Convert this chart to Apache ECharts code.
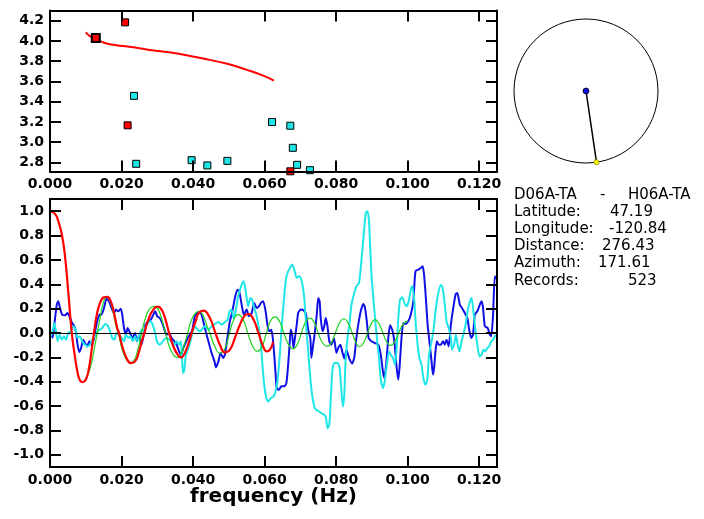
<!DOCTYPE html>
<html><head><meta charset="utf-8">
<script src="https://cdn.jsdelivr.net/npm/echarts@6/dist/echarts.min.js"></script>
<style>html,body{margin:0;padding:0;background:#fff}
#wrap{position:relative;width:704px;height:519px}
#a,#b0,#b1{position:absolute;left:0;top:0;width:704px;height:519px}
#b0,#b1{pointer-events:none}</style>
</head><body><div id="wrap"><div id="a"></div><div id="b0"></div><div id="b1"></div></div>
<script>
// ---------- data ----------
const freqTicks = [0, 0.02, 0.04, 0.06, 0.08, 0.10, 0.12];
const velTicks = [2.8, 3.0, 3.2, 3.4, 3.6, 3.8, 4.0, 4.2];
const corrTicks = [-1.0, -0.8, -0.6, -0.4, -0.2, 0.0, 0.2, 0.4, 0.6, 0.8, 1.0];
const xAxisTitle = 'frequency (Hz)';

const dispersionCurve = [[0.0100,4.084],[0.0110,4.051],[0.0121,4.029],[0.0142,3.995],[0.0161,3.972],[0.0189,3.955],[0.0217,3.945],[0.0254,3.925],[0.0291,3.906],[0.0328,3.890],[0.0356,3.876],[0.0421,3.830],[0.0496,3.774],[0.0551,3.714],[0.0598,3.655],[0.0626,3.608]];
const redPickMain = [[0.0128,4.029]];
const redPicks = [[0.0210,4.183],[0.0217,3.166],[0.0672,2.712]];
const cyanPicks = [[0.0235,3.457],[0.0241,2.786],[0.0396,2.822],[0.0440,2.770],[0.0496,2.815],[0.0621,3.199],[0.0672,3.162],[0.0679,2.944],[0.0691,2.776],[0.0727,2.723]];

const redCorr = [[0,1.0],[0.0014,0.978],[0.0023,0.92],[0.0033,0.81],[0.0042,0.63],[0.0051,0.34],[0.0061,0],[0.0070,-0.2],[0.0079,-0.35],[0.0085,-0.395],[0.0091,-0.403],[0.0100,-0.384],[0.0109,-0.288],[0.0116,-0.151],[0.0123,0],[0.0130,0.137],[0.0140,0.247],[0.0151,0.293],[0.0160,0.296],[0.0170,0.26],[0.0179,0.164],[0.0188,0.041],[0.0193,0],[0.0202,-0.11],[0.0214,-0.205],[0.0226,-0.247],[0.0238,-0.233],[0.0249,-0.151],[0.0258,-0.055],[0.0264,0],[0.0275,0.11],[0.0289,0.192],[0.0301,0.216],[0.0312,0.192],[0.0323,0.11],[0.0333,0],[0.0345,-0.11],[0.0357,-0.178],[0.0366,-0.2],[0.0377,-0.164],[0.0389,-0.068],[0.0396,0],[0.0407,0.096],[0.0416,0.164],[0.0429,0.184],[0.0447,0.123],[0.0461,0.014],[0.0475,-0.096],[0.0489,-0.159],[0.0503,-0.137],[0.0517,-0.041],[0.0531,0.068],[0.0545,0.145],[0.0555,0.156],[0.0569,0.11],[0.0583,0],[0.0596,-0.11],[0.0606,-0.151],[0.0615,-0.137],[0.0624,-0.074]];

const greenCorr = [[0.0103,-0.37],[0.0116,-0.247],[0.0126,-0.096],[0.0132,0],[0.0140,0.123],[0.0149,0.247],[0.0158,0.296],[0.0168,0.26],[0.0177,0.164],[0.0186,0.041],[0.0191,0],[0.0202,-0.137],[0.0214,-0.219],[0.0224,-0.247],[0.0236,-0.219],[0.0247,-0.123],[0.0256,0],[0.0267,0.123],[0.0279,0.2],[0.0292,0.219],[0.0303,0.192],[0.0314,0.096],[0.0323,0],[0.0335,-0.123],[0.0347,-0.186],[0.0355,-0.2],[0.0366,-0.173],[0.0377,-0.082],[0.0385,0],[0.0396,0.11],[0.0407,0.164],[0.0417,0.178],[0.0429,0.137],[0.0440,0.05],[0.0447,0],[0.0461,-0.11],[0.0475,-0.167],[0.0489,-0.13],[0.0502,0],[0.0514,0.11],[0.0526,0.151],[0.0540,0.11],[0.0553,0],[0.0567,-0.11],[0.0580,-0.150],[0.0593,-0.11],[0.0605,0],[0.0617,0.1],[0.0629,0.133],[0.0642,0.095],[0.0654,0],[0.0667,-0.095],[0.0680,-0.13],[0.0692,-0.09],[0.0703,0],[0.0715,0.09],[0.0727,0.122],[0.0739,0.085],[0.0750,0],[0.0762,-0.08],[0.0775,-0.11],[0.0787,-0.08],[0.0798,0],[0.0810,0.085],[0.0822,0.117],[0.0834,0.08],[0.0845,0],[0.0856,-0.08],[0.0866,-0.113],[0.0877,-0.08],[0.0888,0],[0.0899,0.08],[0.0909,0.11],[0.0920,0.075],[0.0931,0],[0.0942,-0.075],[0.0953,-0.103],[0.0964,-0.07],[0.0975,0],[0.0988,0.075],[0.1000,0.10]];

const blueCorr = [[0,0.01],[0.0007,-0.04],[0.0012,0.068],[0.0019,0.233],[0.0023,0.26],[0.0028,0.205],[0.0034,0.15],[0.0042,0.145],[0.0049,0.164],[0.0056,0.123],[0.0062,0.082],[0.0068,0.055],[0.0073,0],[0.0077,-0.096],[0.0082,-0.156],[0.0087,-0.123],[0.0093,-0.055],[0.0098,-0.082],[0.0104,-0.11],[0.011,-0.068],[0.0116,-0.096],[0.0122,-0.055],[0.0128,0.041],[0.0133,0.11],[0.0139,0.151],[0.0144,0.151],[0.0151,0.205],[0.0158,0.282],[0.0165,0.26],[0.0172,0.205],[0.0179,0.164],[0.0184,0.192],[0.0191,0.178],[0.0198,0.2],[0.0202,0.151],[0.0207,0.041],[0.0212,-0.014],[0.0217,0.041],[0.0224,0],[0.023,-0.041],[0.0238,0],[0.0243,-0.068],[0.025,-0.014],[0.0256,-0.096],[0.0263,0],[0.0267,0.068],[0.0275,0.096],[0.0282,0.11],[0.0289,0.151],[0.0294,0.178],[0.03,0.137],[0.0307,0.123],[0.0314,0.082],[0.032,0.027],[0.0326,-0.014],[0.0333,0],[0.034,-0.041],[0.0348,-0.068],[0.0354,-0.096],[0.0361,-0.151],[0.0366,-0.178],[0.0373,-0.123],[0.0377,-0.096],[0.0385,-0.041],[0.0391,-0.014],[0.0398,0.027],[0.0405,0.137],[0.0413,0.164],[0.0419,0.164],[0.0424,0.151],[0.0433,0.041],[0.0443,-0.068],[0.0452,-0.164],[0.046,-0.233],[0.0464,-0.282],[0.0471,-0.233],[0.0477,-0.164],[0.0484,-0.205],[0.0489,-0.178],[0.0496,-0.041],[0.0503,0.096],[0.051,0.178],[0.0517,0.288],[0.0524,0.356],[0.0529,0.342],[0.0536,0.233],[0.0542,0.151],[0.055,0.192],[0.0556,0.137],[0.0564,0.164],[0.0571,0.247],[0.0578,0.205],[0.0584,0.219],[0.059,0.247],[0.0596,0.26],[0.0603,0.178],[0.0608,0.068],[0.0614,0.014],[0.0619,0.027],[0.0623,-0.041],[0.0627,-0.178],[0.0631,-0.342],[0.0634,-0.452],[0.064,-0.466],[0.0647,-0.438],[0.0655,-0.438],[0.0661,-0.411],[0.0666,-0.26],[0.067,-0.096],[0.0673,0.027],[0.0677,-0.014],[0.0681,-0.123],[0.0685,-0.041],[0.069,0.068],[0.0694,0.164],[0.0701,0.192],[0.0709,0.186],[0.0716,0.151],[0.0722,0.027],[0.0728,-0.041],[0.0731,-0.205],[0.0736,-0.096],[0.0741,0.014],[0.0746,0.151],[0.075,0.288],[0.0754,0.26],[0.0757,0.123],[0.0762,0.014],[0.0767,0.055],[0.0771,0.123],[0.0776,0.055],[0.0781,-0.068],[0.0787,-0.096],[0.0794,-0.041],[0.0801,-0.164],[0.0806,-0.123],[0.0812,-0.096],[0.0817,-0.151],[0.0823,-0.21],[0.0829,-0.14],[0.0837,-0.21],[0.0845,-0.25],[0.0851,-0.2],[0.0856,-0.06],[0.0862,0.068],[0.0869,0.178],[0.0876,0.238],[0.088,0.219],[0.0886,0.096],[0.0891,-0.041],[0.0899,-0.068],[0.0908,-0.082],[0.0918,-0.096],[0.0925,-0.178],[0.0931,-0.315],[0.0935,-0.37],[0.094,-0.26],[0.0946,-0.041],[0.0951,0.063],[0.0957,0.027],[0.0963,-0.068],[0.0969,-0.274],[0.0974,-0.384],[0.0978,-0.26],[0.0983,-0.041],[0.0988,0.082],[0.0994,0.074],[0.1002,0.096],[0.1009,0.151],[0.1016,0.26],[0.1022,0.507],[0.103,0.521],[0.1037,0.534],[0.1042,0.548],[0.1046,0.479],[0.1051,0.288],[0.1056,0.068],[0.1061,-0.068],[0.1067,-0.233],[0.1071,-0.342],[0.1074,-0.288],[0.1078,-0.151],[0.1082,-0.068],[0.1087,-0.096],[0.1093,-0.096],[0.1099,-0.068],[0.1104,-0.096],[0.1109,-0.055],[0.1115,-0.11],[0.1121,0.068],[0.1127,0.192],[0.1134,0.315],[0.1139,0.329],[0.1146,0.233],[0.1152,0.205],[0.116,0.164],[0.1167,0.123],[0.1173,0.014],[0.1178,-0.041],[0.1183,-0.014],[0.1188,0.151],[0.1195,0.178],[0.1202,0.233],[0.1207,0.26],[0.1211,0.205],[0.1216,0.055],[0.1224,0.041],[0.123,-0.014],[0.1234,-0.027],[0.1239,0.151],[0.1244,0.466],[0.1250,0.44]];

const cyanCorr = [[0,-0.041],[0.0007,0.014],[0.0012,0.082],[0.0016,0.027],[0.0021,-0.068],[0.0027,-0.014],[0.0033,-0.055],[0.0039,-0.027],[0.0045,-0.055],[0.0051,0],[0.0058,0.014],[0.0065,0.055],[0.0072,0.027],[0.0077,-0.041],[0.0084,-0.027],[0.009,-0.068],[0.0098,-0.096],[0.0105,-0.11],[0.0112,-0.096],[0.0118,-0.055],[0.0126,-0.027],[0.0133,0.014],[0.014,0.027],[0.0146,0.041],[0.0154,0.074],[0.0161,0.063],[0.0168,0.014],[0.0174,-0.041],[0.018,-0.055],[0.0186,0],[0.0193,-0.014],[0.02,-0.041],[0.0207,-0.068],[0.0212,-0.014],[0.0219,-0.041],[0.0225,-0.027],[0.0231,-0.068],[0.0238,-0.027],[0.0244,-0.068],[0.025,-0.014],[0.0256,0.027],[0.0263,0.014],[0.0268,0.055],[0.0275,0.082],[0.0281,0.096],[0.0287,0.068],[0.0294,0],[0.0299,-0.068],[0.0306,-0.096],[0.0312,-0.082],[0.0319,-0.055],[0.0326,-0.041],[0.0333,-0.055],[0.034,-0.068],[0.0348,-0.096],[0.0354,-0.068],[0.0361,-0.096],[0.0366,-0.068],[0.0372,-0.329],[0.0375,-0.315],[0.038,-0.178],[0.0387,-0.123],[0.0393,-0.068],[0.0399,0.014],[0.0405,0.055],[0.0413,0.027],[0.0419,0.014],[0.0424,0.027],[0.0433,0.055],[0.0443,0.027],[0.0452,0.055],[0.0461,0.074],[0.0471,0.09],[0.048,0.068],[0.0489,0.09],[0.0497,0.11],[0.0502,0.178],[0.0508,0.192],[0.0513,0.123],[0.0519,0.178],[0.0525,0.288],[0.053,0.342],[0.0536,0.397],[0.0541,0.425],[0.0545,0.384],[0.055,0.288],[0.0554,0.219],[0.056,0.288],[0.0565,0.274],[0.0571,0.205],[0.0577,0.151],[0.0584,0.041],[0.059,-0.096],[0.0594,-0.26],[0.0599,-0.425],[0.0605,-0.534],[0.061,-0.562],[0.0618,-0.534],[0.0625,-0.521],[0.0631,-0.479],[0.0636,-0.397],[0.0642,-0.205],[0.0647,0.014],[0.0653,0.233],[0.0659,0.425],[0.0664,0.493],[0.0671,0.534],[0.0677,0.562],[0.0683,0.521],[0.069,0.452],[0.0696,0.466],[0.0701,0.452],[0.0706,0.397],[0.0711,0.288],[0.0716,0.068],[0.0722,-0.151],[0.0728,-0.37],[0.0733,-0.507],[0.0739,-0.603],[0.0744,-0.63],[0.0752,-0.644],[0.0759,-0.658],[0.0767,-0.671],[0.0772,-0.699],[0.0776,-0.781],[0.0781,-0.753],[0.0784,-0.616],[0.0787,-0.425],[0.0791,-0.274],[0.0796,-0.247],[0.0804,-0.247],[0.081,-0.288],[0.0815,-0.479],[0.0819,-0.603],[0.0823,-0.507],[0.0826,-0.26],[0.0832,-0.041],[0.0837,0.068],[0.0843,0.233],[0.0851,0.329],[0.0857,0.384],[0.0864,0.411],[0.0869,0.534],[0.0874,0.699],[0.0879,0.863],[0.0883,0.986],[0.0888,1.0],[0.0892,0.918],[0.0895,0.726],[0.0899,0.479],[0.0904,0.288],[0.0909,0.123],[0.0914,-0.041],[0.092,-0.205],[0.0925,-0.384],[0.0931,-0.452],[0.0936,-0.397],[0.0942,-0.26],[0.0948,-0.151],[0.0953,-0.178],[0.0959,-0.205],[0.0965,-0.26],[0.097,-0.096],[0.0974,0.123],[0.0979,0.274],[0.0985,0.293],[0.0991,0.247],[0.0997,0.219],[0.1003,0.26],[0.1009,0.356],[0.1013,0.384],[0.1018,0.288],[0.1023,0.068],[0.1028,-0.096],[0.1033,-0.205],[0.1039,-0.26],[0.1044,-0.37],[0.105,-0.425],[0.1055,-0.384],[0.106,-0.178],[0.1067,-0.068],[0.1072,0.014],[0.1078,0.178],[0.1085,0.315],[0.1093,0.397],[0.1098,0.37],[0.1104,0.233],[0.1109,0.096],[0.1115,0.041],[0.1121,-0.041],[0.1124,-0.137],[0.113,-0.096],[0.1135,-0.014],[0.114,-0.096],[0.1145,-0.151],[0.1151,-0.068],[0.1157,0],[0.1162,0.068],[0.1167,0.164],[0.1173,0.247],[0.1179,0.288],[0.1184,0.178],[0.119,0.014],[0.1195,-0.096],[0.1201,-0.192],[0.1207,-0.178],[0.1212,-0.137],[0.1217,-0.151],[0.1223,-0.123],[0.1228,-0.11],[0.1234,-0.068],[0.1239,-0.055],[0.1246,-0.014]];

const azimuth = 171.61;
const pairNames = ['D06A-TA', '-', 'H06A-TA'];
const infoLabels = ['Latitude:', 'Longitude:', 'Distance:', 'Azimuth:', 'Records:'];
const infoValues = ['47.19', '-120.84', '276.43', '171.61', '523'];

// ---------- shared layout ----------
const FONT = 'DejaVu Sans';
const RED = '#ff0000', BLUE = '#1010e6', CYAN = '#1ee6e6', GREEN = '#1ed21e';
const grids = [
  { left: 50, top: 10.5, width: 447, height: 161 },
  { left: 50, top: 199, width: 447, height: 268 },
  { left: 514, top: 19, width: 144, height: 144 }
];
const axisDefs = {
  x: [[0, 'bottom', 0, 0.125, freqTicks, true, 3], [0, 'top', 0, 0.125, freqTicks, false, 3],
      [1, 'bottom', 0, 0.125, freqTicks, true, 3], [1, 'top', 0, 0.125, freqTicks, false, 3]],
  y: [[0, 'left', 2.71, 4.30, velTicks, true, 1], [0, 'right', 2.71, 4.30, velTicks, false, 1],
      [1, 'left', -1.1, 1.1, corrTicks, true, 1], [1, 'right', -1.1, 1.1, corrTicks, false, 1]]
};
// frame axis: drawn on a single-grid overlay instance (one per plot)
function frameAxis(d) {
  const [, position, min, max, ticks, labels, dec] = d;
  return {
    type: 'value', gridIndex: 0, position, min, max,
    axisLine: { show: true, onZero: false, lineStyle: { color: '#000', width: 2 } },
    axisTick: { show: true, inside: true, length: 11, lineStyle: { color: '#000', width: 2 }, customValues: ticks },
    axisLabel: { show: labels, customValues: ticks, formatter: v => v.toFixed(dec), color: '#000',
      fontFamily: FONT, fontWeight: 'bold', fontSize: 14, margin: 6 },
    splitLine: { show: false }
  };
}
// data axis: same scale, not drawn
function dataAxis(d) {
  const [gridIndex, position, min, max] = d;
  return { type: 'value', gridIndex, position, min, max, show: false };
}
function hiddenAxis(gridIndex) {
  return { type: 'value', gridIndex, min: -1, max: 1, show: false };
}

// ---------- data layer ----------
const chart = echarts.init(document.getElementById('a'));
const azRad = azimuth * Math.PI / 180;
const partnerPos = [Math.sin(azRad), Math.cos(azRad)];

const graphic = [{ type: 'text', style: { text: xAxisTitle, x: 273.5, y: 497, font: 'bold 20px "' + FONT + '"', fill: '#000', textAlign: 'center', textVerticalAlign: 'middle' } }];
const titleX = [514, 600, 628];
pairNames.forEach((t, i) => graphic.push({ type: 'text', style: { text: t, x: titleX[i], y: 195, font: '15px "' + FONT + '"', fill: '#000', textVerticalAlign: 'middle' } }));
const valueX = [610, 609, 602, 598, 628];
infoLabels.forEach((t, i) => {
  const y = 212 + 17.2 * i;
  graphic.push({ type: 'text', style: { text: t, x: 514, y, font: '15px "' + FONT + '"', fill: '#000', textVerticalAlign: 'middle' } });
  graphic.push({ type: 'text', style: { text: infoValues[i], x: valueX[i], y, font: '15px "' + FONT + '"', fill: '#000', textVerticalAlign: 'middle' } });
});

chart.setOption({
  animation: false,
  backgroundColor: '#fff',
  grid: grids,
  xAxis: axisDefs.x.map(dataAxis).concat([hiddenAxis(2)]),
  yAxis: axisDefs.y.map(dataAxis).concat([hiddenAxis(2)]),
  graphic,
  series: [
    { type: 'line', xAxisIndex: 0, yAxisIndex: 0, data: dispersionCurve, smooth: true, symbol: 'none',
      lineStyle: { color: RED, width: 2 }, z: 2 },
    { type: 'scatter', xAxisIndex: 0, yAxisIndex: 0, data: cyanPicks, symbol: 'rect', symbolSize: 7,
      itemStyle: { color: CYAN, borderColor: '#000', borderWidth: 1, opacity: 1 }, z: 3 },
    { type: 'scatter', xAxisIndex: 0, yAxisIndex: 0, data: redPicks, symbol: 'rect', symbolSize: 7,
      itemStyle: { color: RED, borderColor: '#000', borderWidth: 1, opacity: 1 }, z: 3 },
    { type: 'scatter', xAxisIndex: 0, yAxisIndex: 0, data: redPickMain, symbol: 'rect', symbolSize: 8,
      itemStyle: { color: RED, borderColor: '#000', borderWidth: 2, opacity: 1 }, z: 4 },
    { type: 'line', xAxisIndex: 2, yAxisIndex: 2, data: blueCorr, symbol: 'none', smooth: 0.2,
      lineStyle: { color: BLUE, width: 2 }, z: 2 },
    { type: 'line', xAxisIndex: 2, yAxisIndex: 2, data: cyanCorr, symbol: 'none', smooth: 0.2,
      lineStyle: { color: CYAN, width: 2 }, z: 3 },
    { type: 'line', xAxisIndex: 2, yAxisIndex: 2, data: greenCorr, symbol: 'none', smooth: true,
      lineStyle: { color: GREEN, width: 1.2 }, z: 4 },
    { type: 'line', xAxisIndex: 2, yAxisIndex: 2, data: redCorr, symbol: 'none', smooth: true,
      lineStyle: { color: RED, width: 2.2 }, z: 5,
      markLine: { silent: true, symbol: 'none', label: { show: false },
        lineStyle: { color: '#000', width: 1, type: 'solid' }, data: [{ yAxis: 0 }] } },
    { type: 'scatter', xAxisIndex: 4, yAxisIndex: 4, data: [[0, 0]], symbol: 'circle', symbolSize: 144, silent: true,
      itemStyle: { color: 'rgba(0,0,0,0)', borderColor: '#000', borderWidth: 1, opacity: 1 }, z: 1 },
    { type: 'line', xAxisIndex: 4, yAxisIndex: 4, data: [[0, 0], partnerPos], symbol: 'none',
      lineStyle: { color: '#000', width: 1.5 }, z: 3 },
    { type: 'scatter', xAxisIndex: 4, yAxisIndex: 4, data: [[0, 0]], symbol: 'circle', symbolSize: 6,
      itemStyle: { color: '#1010e6', borderColor: '#000', borderWidth: 0.8, opacity: 1 }, z: 4 },
    { type: 'scatter', xAxisIndex: 4, yAxisIndex: 4, data: [partnerPos], symbol: 'circle', symbolSize: 5,
      itemStyle: { color: '#ffff00', borderColor: '#888800', borderWidth: 0.8, opacity: 1 }, z: 4 }
  ]
});

// ---------- frame layers: one single-grid instance per plot (axes, inward ticks, tick labels) ----------
[0, 1].forEach(g => {
  const inst = echarts.init(document.getElementById('b' + g));
  inst.setOption({
    animation: false,
    backgroundColor: 'rgba(0,0,0,0)',
    grid: [grids[g]],
    xAxis: axisDefs.x.filter(d => d[0] === g).map(frameAxis),
    yAxis: axisDefs.y.filter(d => d[0] === g).map(frameAxis),
    series: []
  });
});
</script></body></html>
